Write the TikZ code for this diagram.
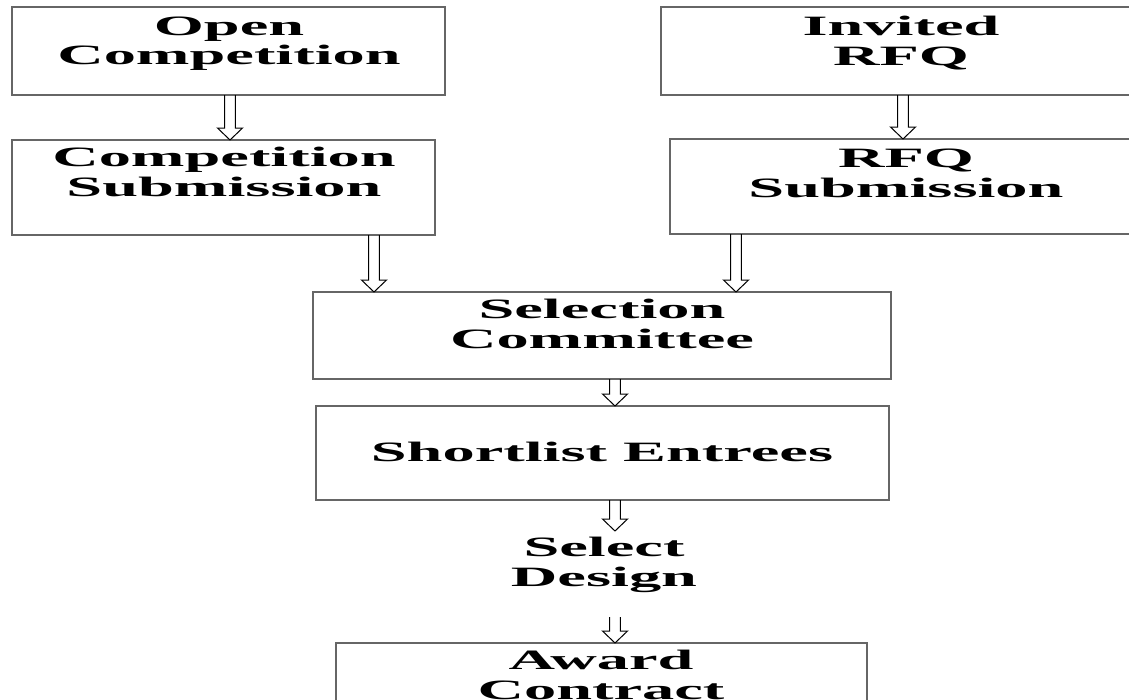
\documentclass[tikz,border=0pt]{standalone}
\usepackage{fontspec}
\newfontfamily\bx{Liberation Serif}[FakeStretch=2.3]
\usetikzlibrary{calc}
\tikzset{
 box/.style={draw=black!60, line width=0.8pt, inner sep=0pt, outer sep=0pt},
 lbl/.style={anchor=north, inner sep=0pt, outer sep=0pt, align=center, font=\bx\bfseries\fontsize{21pt}{22.2pt}\selectfont},
 blk/.style={draw=black, line width=0.75pt, line join=miter}
}
\newcommand{\mkbox}[5]{\node[box, minimum width={(#4-#2)*0.75pt}, minimum height={(#5-#3)*0.75pt}] (#1) at ({(#2+#4)/2},{(#3+#5)/2}) {};}
\newcommand{\barrow}[3]{\draw[blk] let \p1=(#1), \p2=(#2), \p3=(#3,0) in (\x3-4.1pt,\y1) -- (\x3-4.1pt,\y2+9pt) -- (\x3-9.4pt,\y2+9pt) -- (\x3,\y2) -- (\x3+9.4pt,\y2+9pt) -- (\x3+4.1pt,\y2+9pt) -- (\x3+4.1pt,\y1);}
\begin{document}
\begin{tikzpicture}[x=0.75pt,y=-0.75pt]
\useasboundingbox (0,0) rectangle (1129,700);
\fill[white] (0,0) rectangle (1129,700);
\mkbox{b1}{12}{7}{445}{95}
\mkbox{b2}{12}{140}{435}{235}
\mkbox{b3}{661}{7}{1142}{95}
\mkbox{b4}{670}{139}{1143}{234}
\mkbox{b5}{313}{292}{891}{379}
\mkbox{b6}{316}{406}{889}{500}
\mkbox{b7}{336}{643}{867}{712}
\node[lbl] (t1) at (229,16.5) {Open\\Competition};
\node[lbl] (t2) at (224,147.5) {Competition\\Submission};
\node[lbl] (t3) at (901,16.5) {Invited\\RFQ};
\node[lbl] (t4) at (906,149) {RFQ\\Submission};
\node[lbl] (t5) at (602,299.5) {Selection\\Committee};
\node[lbl] (t6) at (602,442.5) {Shortlist Entrees};
\node[lbl] (sd) at (604,537) {Select\\Design};
\node[lbl] (t7) at (601,650.5) {Award\\Contract};
\coordinate (a6tip) at (615,531);
\coordinate (a7top) at (615,617);
\barrow{b1.south}{b2.north}{230}
\barrow{b2.south}{b5.north}{374}
\barrow{b3.south}{b4.north}{903}
\barrow{b4.south}{b5.north}{736}
\barrow{b5.south}{b6.north}{615}
\barrow{b6.south}{a6tip}{615}
\barrow{a7top}{b7.north}{615}
\end{tikzpicture}
\end{document}
